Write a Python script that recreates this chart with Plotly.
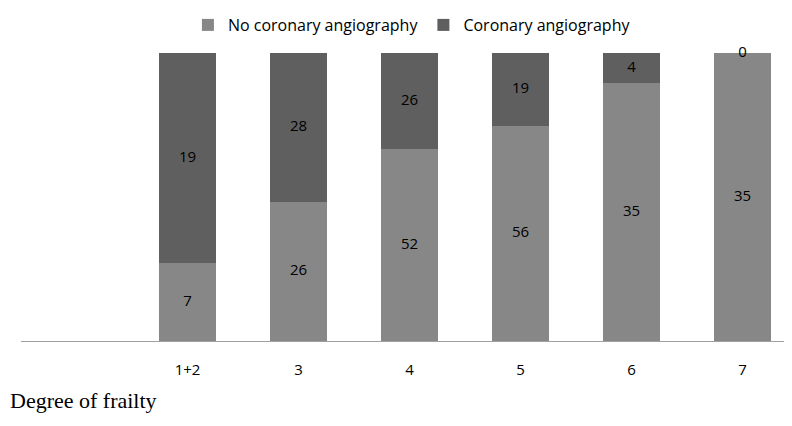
import plotly.graph_objects as go

categories = ["1+2", "3", "4", "5", "6", "7"]
no_angio = [7, 26, 52, 56, 35, 35]
angio = [19, 28, 26, 19, 4, 0]
x_title = "Degree of frailty"

cat_order = [" "] + categories
label_font = dict(family="Open Sans, Lato, sans-serif", size=15, color="#000000")

totals = [n + a for n, a in zip(no_angio, angio)]
no_mid = [n / t * 100 / 2 for n, t in zip(no_angio, totals)]
angio_mid = [(n + a / 2) / t * 100 for n, a, t in zip(no_angio, angio, totals)]

fig = go.Figure()
fig.add_trace(go.Bar(
    x=categories, y=no_angio, name="No coronary angiography",
    marker=dict(color="#878787", line=dict(width=0)), width=0.515,
))
fig.add_trace(go.Bar(
    x=categories, y=angio, name="Coronary angiography",
    marker=dict(color="#5f5f5f", line=dict(width=0)), width=0.515,
))
# value labels placed at the middle of each stacked segment
fig.add_trace(go.Scatter(
    x=categories + categories, y=no_mid + angio_mid,
    text=[str(v) for v in no_angio + angio], mode="text",
    textposition="middle center", textfont=label_font,
    showlegend=False, hoverinfo="skip", cliponaxis=False,
))

fig.update_layout(
    barmode="stack", barnorm="percent",
    width=792, height=426,
    margin=dict(l=13, r=8, t=45, b=93),
    paper_bgcolor="white", plot_bgcolor="white",
    font=label_font,
    showlegend=True,
    legend=dict(orientation="h", x=0.51, xref="container", xanchor="center",
                y=1.0, yref="container", yanchor="top",
                font=dict(family="Open Sans, Lato, sans-serif", size=16),
                itemwidth=30, traceorder="normal"),
)
fig.update_xaxes(type="category", categoryorder="array", categoryarray=cat_order,
                 range=[-0.5, 6.446], showline=True, linecolor="#a0a0a0", linewidth=1,
                 ticks="", showgrid=False, zeroline=False, ticklabelstandoff=15,
                 tickfont=label_font)
fig.update_yaxes(range=[0, 100], visible=False, showgrid=False)

fig.add_annotation(text=x_title, xref="paper", yref="paper", x=0, y=-0.205,
                   xanchor="left", yanchor="middle", showarrow=False, xshift=-13,
                   font=dict(family="Liberation Serif, Times New Roman, serif", size=22, color="#000"))

fig.write_html("out.html")
